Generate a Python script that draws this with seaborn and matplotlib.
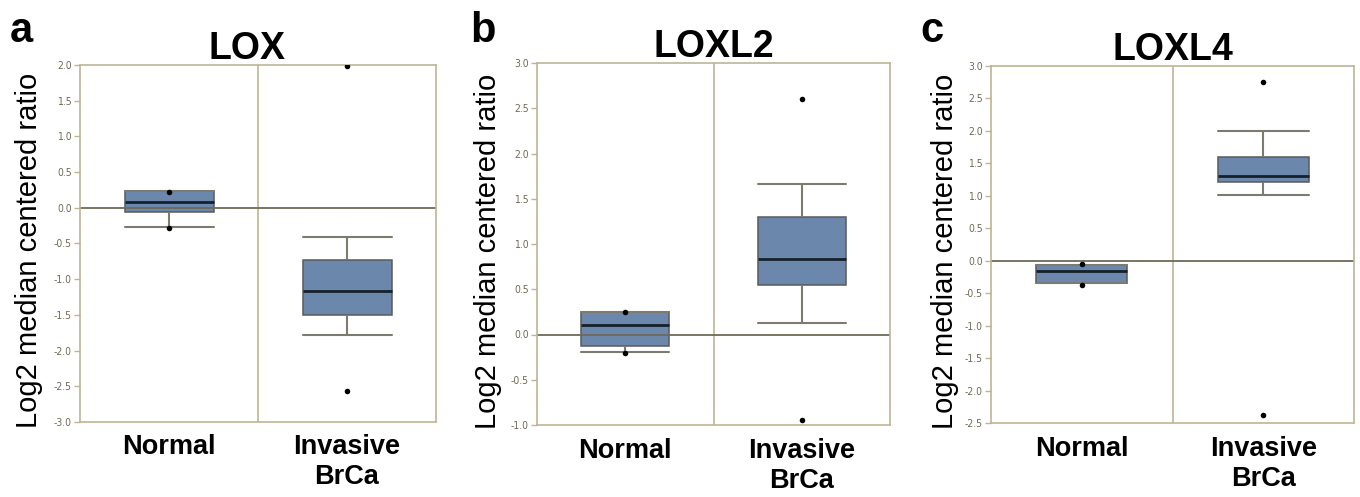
import seaborn as sns
import matplotlib.pyplot as plt
import pandas as pd

# box stats per group: [lower whisker, q1, median, q3, upper whisker]
groups = ["Normal", "Invasive\nBrCa"]

lox_normal = [-0.27, -0.06, 0.08, 0.23, 0.23]
lox_invasive = [-1.78, -1.50, -1.16, -0.73, -0.41]
lox_normal_pts = [-0.28, 0.22]
lox_invasive_pts = [-2.57, 1.99]

loxl2_normal = [-0.19, -0.13, 0.11, 0.25, 0.25]
loxl2_invasive = [0.13, 0.55, 0.83, 1.30, 1.66]
loxl2_normal_pts = [-0.20, 0.25]
loxl2_invasive_pts = [-0.95, 2.60]

loxl4_normal = [-0.35, -0.34, -0.16, -0.06, -0.06]
loxl4_invasive = [1.02, 1.21, 1.31, 1.60, 2.00]
loxl4_normal_pts = [-0.37, -0.05]
loxl4_invasive_pts = [-2.38, 2.76]

y_ranges = {"LOX": (-3.0, 2.0), "LOXL2": (-1.0, 3.0), "LOXL4": (-2.5, 3.0)}

sns.set_theme(style="white")
plt.rcParams["font.family"] = ["Liberation Sans", "DejaVu Sans"]
plt.rcParams["text.color"] = "black"

BOX = "#6b88ac"
TAN = "#bdb593"
TICKC = "#6f6a55"

fig = plt.figure(figsize=(13.6, 4.97), dpi=100)

panels = [
    ("a", "LOX", lox_normal, lox_invasive, lox_normal_pts, lox_invasive_pts,
     [80, 65, 436, 422], -0.105, 10, 0.47),
    ("b", "LOXL2", loxl2_normal, loxl2_invasive, loxl2_normal_pts, loxl2_invasive_pts,
     [537, 63, 890, 425], -0.098, 470, 0.5),
    ("c", "LOXL4", loxl4_normal, loxl4_invasive, loxl4_normal_pts, loxl4_invasive_pts,
     [991, 66, 1354, 423], -0.088, 920, 0.5),
]

W, H = 1360, 497
for letter, name, nrm, inv, nrm_pts, inv_pts, box, lab_x, let_x, title_x in panels:
    l, t, r, b = box
    ax = fig.add_axes([l / W, 1 - b / H, (r - l) / W, (b - t) / H])

    df = pd.DataFrame({"group": [groups[0]] * len(nrm) + [groups[1]] * len(inv),
                       "value": nrm + inv})
    pts = pd.DataFrame({"group": [groups[0]] * len(nrm_pts) + [groups[1]] * len(inv_pts),
                        "value": nrm_pts + inv_pts})

    ax.axvline(0.5, color=TAN, lw=1.2, zorder=0)
    ax.axhline(0, color="#6e6a58", lw=1.3, zorder=2.5)

    sns.boxplot(data=df, x="group", y="value", order=groups, whis=(0, 100),
                width=0.5, color=BOX, saturation=1, showfliers=False,
                linecolor="#5a5a5a", linewidth=1.1, capwidths=0.5,
                medianprops=dict(color="#15202c", linewidth=2),
                whiskerprops=dict(color="#7d7a70", linewidth=1.5),
                capprops=dict(color="#7d7a70", linewidth=1.5),
                ax=ax, zorder=2)
    sns.stripplot(data=pts, x="group", y="value", order=groups, jitter=False,
                  color="black", size=4, ax=ax, zorder=3)

    lo, hi = y_ranges[name]
    ax.set_xlim(-0.5, 1.5)
    ax.set_ylim(lo, hi)
    ticks = [lo + 0.5 * i for i in range(int(round((hi - lo) / 0.5)) + 1)]
    ax.set_yticks(ticks, labels=[f"{v:.1f}" for v in ticks], fontsize=7.5,
                  color=TICKC, fontfamily="DejaVu Sans", fontstretch="condensed")
    ax.tick_params(axis="y", left=True, length=4, width=1, color=TAN, pad=2)
    ax.tick_params(axis="x", length=0, pad=9)
    for lbl in ax.get_xticklabels():
        lbl.set_fontsize(19.5)
        lbl.set_fontweight("bold")
        lbl.set_color("black")
    for sp in ax.spines.values():
        sp.set_color(TAN)
        sp.set_linewidth(1.2)
    ax.set_xlabel("")
    ax.set_ylabel("Log2 median centered ratio", fontsize=21, color="black")
    ax.yaxis.set_label_coords(lab_x, 0.48)
    ax.set_title(name, fontsize=27, fontweight="bold", pad=4, color="black", x=title_x)
    fig.text(let_x / W, 1 - 42 / H, letter, fontsize=30, fontweight="bold",
             va="baseline", ha="left", color="black")

fig.savefig("out.png", dpi=100)
